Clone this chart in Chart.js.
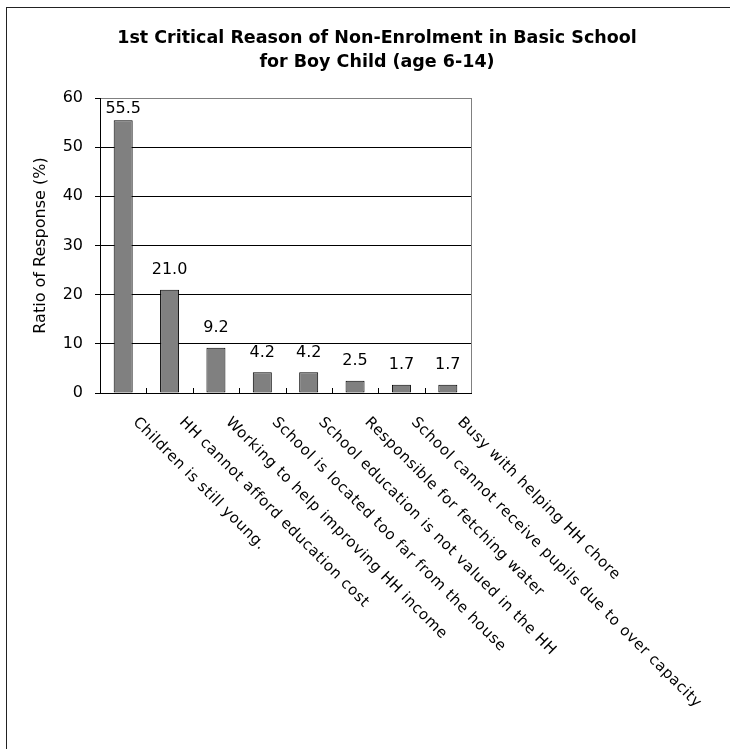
<!DOCTYPE html>
<html>
<head>
<meta charset="utf-8">
<script src="https://cdn.jsdelivr.net/npm/chart.js@4.4.1/dist/chart.umd.min.js"></script>
<style>
  body { margin: 0; background: #fff; overflow: hidden; }
  #wrap { position: relative; width: 730px; height: 749px; }
  #chart { display: block; }
  #frame { position: absolute; left: 6px; top: 7px; width: 800px; height: 800px; border: 1px solid #222; pointer-events: none; }
</style>
</head>
<body>
<div id="wrap">
  <canvas id="chart" width="730" height="749"></canvas>
  <div id="frame"></div>
</div>
<script>
var titleLines = ['1st Critical Reason of Non-Enrolment in Basic School', 'for Boy Child (age 6-14)'];
var yTitle = 'Ratio of Response (%)';

var categories = [
  'Children is still young.',
  'HH cannot afford education cost',
  'Working to help improving HH income',
  'School is located too far from the house',
  'School education is not valued in the HH',
  'Responsible for fetching water',
  'School cannot receive pupils due to over capacity',
  'Busy with helping HH chore'
];
var responses = [55.5, 21.0, 9.2, 4.2, 4.2, 2.5, 1.7, 1.7];

var yMin = 0, yMax = 60, yStep = 10;

var fontFamily = '"DejaVu Sans", Verdana, sans-serif';
Chart.defaults.font.family = fontFamily;
Chart.defaults.color = '#000';

var extras = {
  id: 'extras',
  afterDraw: function(chart) {
    var ctx = chart.ctx, area = chart.chartArea, x = chart.scales.x;
    ctx.save();

    // grey right edge of the plot box
    ctx.lineWidth = 1;
    ctx.strokeStyle = '#808080';
    ctx.beginPath();
    var r = Math.round(area.right) + 0.5;
    ctx.moveTo(r, area.top);
    ctx.lineTo(r, area.bottom);
    ctx.stroke();

    // short inside ticks between the categories
    ctx.strokeStyle = '#000';
    ctx.beginPath();
    for (var i = 1; i < categories.length; i++) {
      var px = Math.round(x.getPixelForValue(i - 0.5)) + 0.5;
      ctx.moveTo(px, area.bottom);
      ctx.lineTo(px, area.bottom - 5);
    }
    ctx.stroke();

    // value labels over the bars
    ctx.font = '16px ' + fontFamily;
    ctx.fillStyle = '#000';
    ctx.textAlign = 'center';
    ctx.textBaseline = 'middle';
    chart.getDatasetMeta(0).data.forEach(function(bar, i) {
      var y = Math.max(bar.y - 20, area.top + 11);
      ctx.fillText(responses[i].toFixed(1), bar.x, y);
    });

    // slanted category labels
    ctx.letterSpacing = '0.6px';
    ctx.font = '15px ' + fontFamily;
    ctx.textAlign = 'left';
    categories.forEach(function(label, i) {
      ctx.save();
      ctx.translate(x.getPixelForTick(i) + 12, area.bottom + 27);
      ctx.rotate(Math.PI / 4);
      ctx.fillText(label, 0, 0);
      ctx.restore();
    });

    ctx.restore();
  }
};

new Chart(document.getElementById('chart').getContext('2d'), {
  type: 'bar',
  data: {
    labels: categories,
    datasets: [{
      data: responses,
      backgroundColor: '#808080',
      borderColor: '#000',
      borderWidth: 1,
      borderSkipped: false,
      categoryPercentage: 1,
      barPercentage: 0.41
    }]
  },
  options: {
    responsive: false,
    animation: false,
    layout: { padding: { left: 24, top: 0, right: 0, bottom: 0 } },
    plugins: {
      legend: { display: false },
      tooltip: { enabled: false },
      title: {
        display: true,
        text: titleLines,
        color: '#000',
        font: { size: 17.5, weight: 'bold', lineHeight: 1.4 },
        padding: { top: 26, bottom: 23 }
      }
    },
    scales: {
      x: {
        grid: { display: false },
        ticks: { display: false },
        border: { color: '#000' },
        afterFit: function(s) { s.height = 356; }
      },
      y: {
        min: yMin,
        max: yMax,
        ticks: { stepSize: yStep, color: '#000', padding: 12, font: { size: 16 } },
        grid: {
          color: function(c) { return c.tick && c.tick.value === yMax ? '#808080' : '#000'; },
          tickColor: '#000',
          tickLength: 5
        },
        border: { color: '#000' },
        title: { display: true, text: yTitle, color: '#000', font: { size: 16 }, padding: 7 },
        afterFit: function(s) { s.width = 76; }
      },
      y2: {
        position: 'right',
        grid: { display: false },
        ticks: { display: false },
        border: { display: false },
        afterFit: function(s) { s.width = 259; }
      }
    }
  },
  plugins: [extras]
});
</script>
</body>
</html>
